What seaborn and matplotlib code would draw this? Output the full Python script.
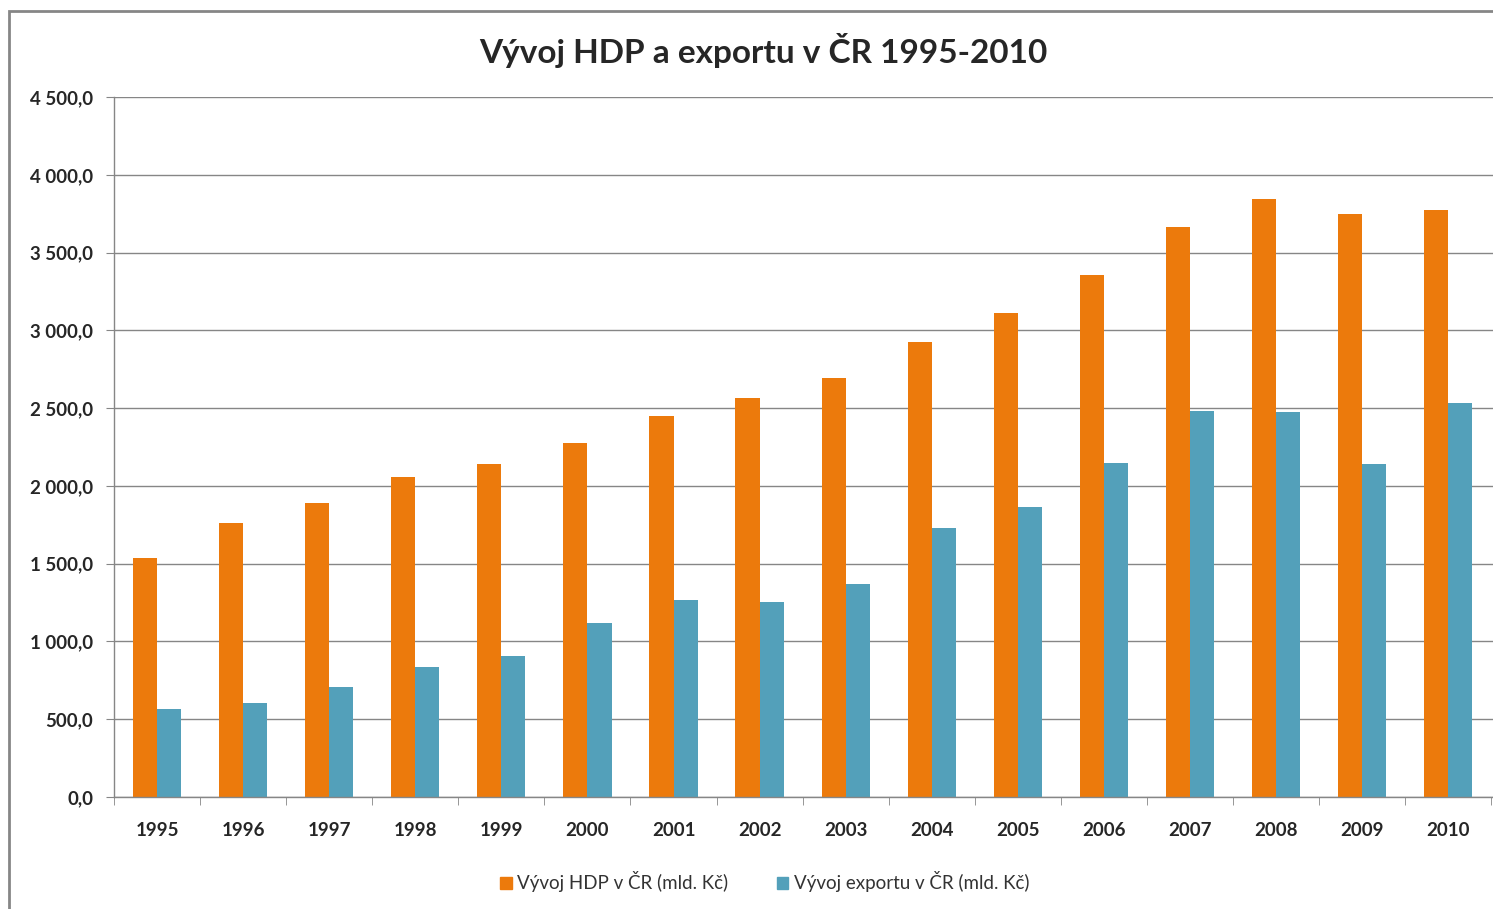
import pandas as pd
import matplotlib
matplotlib.use("Agg")
import matplotlib.pyplot as plt
import seaborn as sns
from matplotlib.ticker import FuncFormatter, FixedLocator
from matplotlib.patches import Rectangle

years = [str(y) for y in range(1995, 2011)]
hdp = [1536, 1761, 1890, 2057, 2141, 2276, 2449, 2565, 2694, 2925, 3111, 3356, 3664, 3844, 3748, 3774]
export = [566, 604, 707, 836, 906, 1119, 1266, 1254, 1369, 1729, 1864, 2147, 2481, 2475, 2141, 2533]
series = ["Vývoj HDP v ČR (mld. Kč)", "Vývoj exportu v ČR (mld. Kč)"]
colors = ["#EC7A0C", "#53A0BA"]

df = pd.DataFrame({
    "rok": years * 2,
    "hodnota": hdp + export,
    "rada": [series[0]] * len(years) + [series[1]] * len(years),
})

sns.set_style("white")
plt.rcParams["font.family"] = ["Lato", "DejaVu Sans"]

fig = plt.figure(figsize=(14.93, 9.09), dpi=100)
ax = fig.add_axes([114 / 1493, 1 - 797 / 909, 1 - 114 / 1493, (797 - 97) / 909])

sns.barplot(data=df, x="rok", y="hodnota", hue="rada", palette=colors,
            width=0.56, gap=0, ax=ax, edgecolor="none", linewidth=0,
            saturation=1)

ax.set_ylim(0, 4500)
ax.set_xlim(-0.5, 15.52)
ax.yaxis.set_major_locator(FixedLocator(range(0, 4501, 500)))
ax.yaxis.set_major_formatter(FuncFormatter(lambda v, p: f"{v:,.1f}".replace(",", " ").replace(".", ",")))
ax.grid(axis="y", color="#868686", linewidth=1)
ax.grid(axis="x", visible=False)
ax.set_axisbelow(True)
for s in ["top", "right"]:
    ax.spines[s].set_visible(False)
for s in ["left", "bottom"]:
    ax.spines[s].set_color("#868686")
    ax.spines[s].set_linewidth(1)

ax.tick_params(axis="y", left=True, length=6, color="#868686", labelsize=13.5, pad=9)
ax.tick_params(axis="x", which="major", length=0, labelsize=13.5, pad=18)
ax.set_xticks([i - 0.5 for i in range(17)], minor=True)
ax.tick_params(axis="x", which="minor", bottom=True, length=6, color="#868686")
for lab in ax.get_yticklabels() + ax.get_xticklabels():
    lab.set_fontweight("bold")
ax.set_xlabel("")
ax.set_ylabel("")

ax.legend_.remove()
handles = [plt.Rectangle((0, 0), 1, 1, color=c) for c in colors]
fig.legend(handles, series, loc="center", bbox_to_anchor=(765 / 1493, 1 - 882 / 909),
           ncol=2, frameon=False, fontsize=13.5, handlelength=0.6, handleheight=0.6,
           handletextpad=0.3, columnspacing=2.6, labelcolor="#333333")

fig.text(763 / 1493, 1 - 50 / 909, "Vývoj HDP a exportu v ČR 1995-2010",
         ha="center", va="center", fontsize=24, fontweight="bold")

fig.patches.append(Rectangle((9 / 1493, -0.1), 1.2, 1 - 11 / 909 + 0.1,
                             transform=fig.transFigure, fill=False,
                             edgecolor="#868686", linewidth=2))

fig.savefig("out.png", dpi=100, facecolor="white")
